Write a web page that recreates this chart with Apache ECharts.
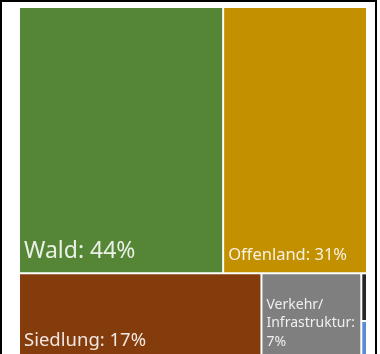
<!DOCTYPE html>
<html><head><meta charset="utf-8">
<script src="https://cdn.jsdelivr.net/npm/echarts@6/dist/echarts.min.js"></script>
<style>
html,body{margin:0;padding:0;background:#fff;overflow:hidden;}
#frame{position:absolute;left:0;top:0;width:377px;height:380px;border:2px solid #000;border-bottom:none;box-sizing:border-box;}
#c{position:absolute;left:0;top:0;width:380px;height:354px;}
</style></head>
<body>
<div id="frame"></div>
<div id="c"></div>
<script>
const categories = ["Wald", "Offenland", "Siedlung", "Verkehr/Infrastruktur", "Sonstige", "Gewässer"];
const values = [44, 31, 17, 7, 0.22, 0.18];
const labelTexts = ["Wald: 44%", "Offenland: 31%", "Siedlung: 17%", "Verkehr/\nInfrastruktur:\n7%", "", ""];

const colors = ["#558636", "#c39000", "#843c0c", "#7f7f7f", "#262626", "#5b8ad6"];
const fontSizes = [23, 16.5, 18.5, 14, 10, 10];

const chart = echarts.init(document.getElementById('c'), null, {renderer: 'canvas'});
const data = categories.map((n, i) => ({
  name: n,
  value: values[i],
  itemStyle: {color: colors[i]},
  label: {
    show: labelTexts[i] !== "",
    formatter: labelTexts[i],
    fontSize: fontSizes[i],
    lineHeight: i === 3 ? 18.5 : fontSizes[i] + 2
  }
}));
chart.setOption({
  animation: false,
  series: [{
    type: 'treemap',
    left: 20, top: 8, width: 346, height: 351,
    roam: false, nodeClick: false,
    breadcrumb: {show: false},
    levels: [{itemStyle: {gapWidth: 2, borderWidth: 0, borderColor: '#fff'}}],
    itemStyle: {borderWidth: 0, gapWidth: 2},
    label: {
      position: 'insideBottomLeft',
      distance: 4,
      padding: [0, 0, 4, 0],
      color: 'rgba(255,255,255,0.88)',
      fontFamily: 'Noto Sans'
    },
    upperLabel: {show: false},
    data: data
  }]
});
</script>
</body></html>
